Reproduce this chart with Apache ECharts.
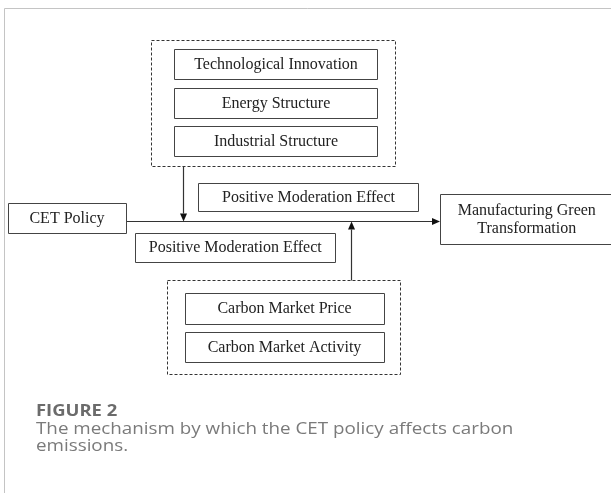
<!DOCTYPE html>
<html>
<head>
<meta charset="utf-8">
<style>
  html, body { margin: 0; padding: 0; background: #fff; }
  #chart { width: 611px; height: 493px; }
</style>
<script src="https://cdn.jsdelivr.net/npm/echarts@6/dist/echarts.min.js"></script>
</head>
<body>
<div id="chart"></div>
<script>
// ---- diagram content (labels) ----
const boxLabels = [
  'Technological Innovation',
  'Energy Structure',
  'Industrial Structure',
  'Positive Moderation Effect',
  'CET Policy',
  'Positive Moderation Effect',
  'Manufacturing Green\nTransformation',
  'Carbon Market Price',
  'Carbon Market Activity'
];
// ---- diagram layout, in diagram units ----
const boxLeft   = [174.5, 174.5, 174.5, 198.5,   8, 135, 440.5, 185, 185];
const boxTop    = [   49,    88,   126,   183, 203, 233,   194, 293, 332];
const boxRight  = [377.5, 377.5, 377.5, 418.5, 126, 335.5, 613, 384, 384];
const boxBottom = [   79,   118,   156, 211.5, 233, 262,   244, 324, 362];

// dashed grouping frames: [left, top, right, bottom]
const groupFrames = [
  [151.5, 40.5, 395.5, 166],
  [167, 280.5, 400.5, 374]
];

// connectors: [fromX, fromY, toX, toY] (arrow at the "to" end)
const connectors = [
  [126, 221.5, 440, 221.5],
  [183.5, 166, 183.5, 221.5],
  [351.5, 280.5, 351.5, 221.5]
];

const captionTitle = 'FIGURE 2';
const captionLines = ['The mechanism by which the CET policy affects carbon', 'emissions.'];

const chart = echarts.init(document.getElementById('chart'), null, {renderer: 'canvas'});

function px(v) { return Math.round(v - 0.5) + 0.5; }

const SERIF = '16px "Liberation Serif", "Times New Roman", serif';
const SANS = '"Open Sans", "Noto Sans", sans-serif';

const option = {
  animation: false,
  backgroundColor: '#ffffff',
  grid: {left: 0, right: 0, top: 0, bottom: 0},
  xAxis: {type: 'value', min: 0, max: 611, show: false},
  yAxis: {type: 'value', min: 0, max: 493, inverse: true, show: false},
  series: [
    {
      type: 'custom',
      clip: false,
      data: groupFrames.map(g => g.slice()),
      renderItem: function (params, api) {
        const p0 = api.coord([api.value(0), api.value(1)]);
        const p1 = api.coord([api.value(2), api.value(3)]);
        const x0 = px(p0[0]), y0 = px(p0[1]), x1 = px(p1[0]), y1 = px(p1[1]);
        return {
          type: 'rect',
          shape: {x: x0, y: y0, width: x1 - x0, height: y1 - y0},
          style: {fill: 'none', stroke: '#333', lineWidth: 1, lineDash: [3, 2]}
        };
      }
    },
    {
      type: 'custom',
      clip: false,
      data: connectors.map(c => c.slice()),
      renderItem: function (params, api) {
        const a = api.coord([api.value(0), api.value(1)]);
        const b = api.coord([api.value(2), api.value(3)]);
        const dx = b[0] - a[0], dy = b[1] - a[1];
        const len = Math.sqrt(dx * dx + dy * dy);
        const ux = dx / len, uy = dy / len;
        const head = 8, half = 3.5;
        const bx = b[0] - ux * head, by = b[1] - uy * head;
        const horiz = Math.abs(dy) < 0.01;
        const la = horiz ? [a[0], px(a[1])] : [px(a[0]), a[1]];
        const lb = horiz ? [bx, px(by)] : [px(bx), by];
        const tip = horiz ? [b[0], px(b[1])] : [px(b[0]), b[1]];
        const base = horiz ? [bx, px(by)] : [px(bx), by];
        return {
          type: 'group',
          children: [
            {
              type: 'line',
              shape: {x1: la[0], y1: la[1], x2: lb[0], y2: lb[1]},
              style: {stroke: '#333', lineWidth: 1.2}
            },
            {
              type: 'polygon',
              shape: {points: [
                tip,
                [base[0] - uy * half, base[1] + ux * half],
                [base[0] + uy * half, base[1] - ux * half]
              ]},
              style: {fill: '#111', stroke: 'none'}
            }
          ]
        };
      }
    },
    {
      type: 'custom',
      clip: false,
      data: boxLabels.map((l, i) => [boxLeft[i], boxTop[i], boxRight[i], boxBottom[i], i]),
      renderItem: function (params, api) {
        const p0 = api.coord([api.value(0), api.value(1)]);
        const p1 = api.coord([api.value(2), api.value(3)]);
        const x0 = px(p0[0]), y0 = px(p0[1]), x1 = px(p1[0]), y1 = px(p1[1]);
        const label = boxLabels[api.value(4)];
        return {
          type: 'group',
          children: [
            {
              type: 'rect',
              shape: {x: x0, y: y0, width: x1 - x0, height: y1 - y0},
              style: {fill: '#fff', stroke: '#444', lineWidth: 1}
            },
            {
              type: 'text',
              style: {
                text: label,
                x: (p0[0] + p1[0]) / 2,
                y: (p0[1] + p1[1]) / 2 + 0.5,
                align: 'center',
                verticalAlign: 'middle',
                font: SERIF,
                lineHeight: 18,
                fill: '#222'
              }
            }
          ]
        };
      }
    }
  ],
  graphic: [
    {type: 'line', shape: {x1: 4.5, y1: 8.5, x2: 611, y2: 8.5}, style: {stroke: '#c4c4c4', lineWidth: 1}},
    {type: 'line', shape: {x1: 4.5, y1: 8.5, x2: 4.5, y2: 493}, style: {stroke: '#c4c4c4', lineWidth: 1}},
    {
      type: 'text', x: 36, y: 411.5, scaleX: 1.15,
      style: {text: captionTitle, x: 0, y: 0, align: 'left', verticalAlign: 'middle',
        font: 'bold 16px ' + SANS, fill: '#6b6b6b'}
    },
    {
      type: 'text', x: 36, y: 429, scaleX: 1.175,
      style: {text: captionLines[0], x: 0, y: 0, align: 'left', verticalAlign: 'middle',
        font: '16px ' + SANS, fill: '#7a7a7a'}
    },
    {
      type: 'text', x: 36, y: 446.5, scaleX: 1.175,
      style: {text: captionLines[1], x: 0, y: 0, align: 'left', verticalAlign: 'middle',
        font: '16px ' + SANS, fill: '#7a7a7a'}
    }
  ]
};
chart.setOption(option);
</script>
</body>
</html>
